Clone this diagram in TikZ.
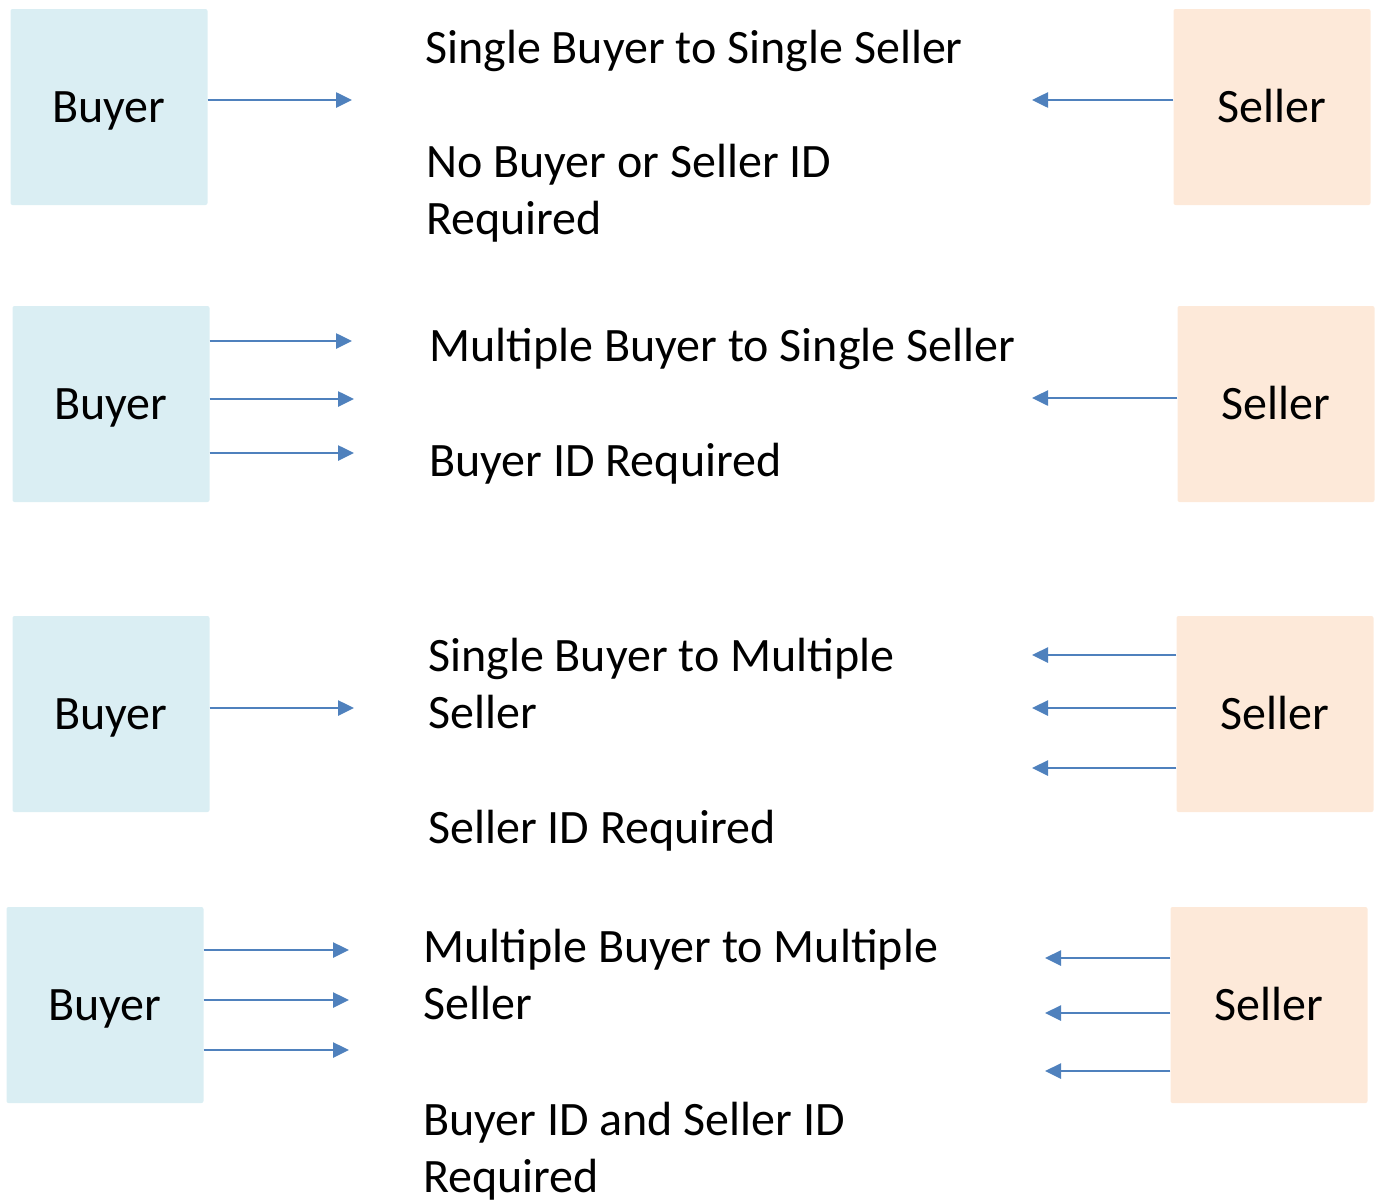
\documentclass[tikz,border=0pt]{standalone}
\usepackage{fontspec}
\setmainfont{Carlito}
\usetikzlibrary{arrows.meta}
\definecolor{buyerblue}{HTML}{DAEEF3}
\definecolor{sellerpeach}{HTML}{FDE9D9}
\definecolor{flowblue}{HTML}{4F81BD}
\begin{document}
\begin{tikzpicture}
  [x=1pt,y=-1pt,every node/.style={font=\fontsize{48}{57}\selectfont}]
  \tikzstyle{buyer} = [fill=buyerblue,rounded corners=2pt,minimum width=197pt,minimum height=196pt,inner sep=0pt,text height=31pt,text depth=0pt]
  \tikzstyle{seller} = [fill=sellerpeach,rounded corners=2pt,minimum width=197pt,minimum height=196pt,inner sep=0pt,text height=31pt,text depth=0pt]
  \tikzstyle{note} = [anchor=base west,align=left,inner sep=0pt]
  \tikzstyle{flow} = [flowblue,line width=2.6pt,-{Triangle[length=16pt,width=15pt]}]
  \useasboundingbox (0,0) rectangle (1380,1200);
  % boxes
  \node[buyer] (b1) at (109,107)    {Buyer};
  \node[seller] (s1) at (1272,107)  {Seller};
  \node[buyer] (b2) at (111,404)    {Buyer};
  \node[seller] (s2) at (1276,404)  {Seller};
  \node[buyer] (b3) at (111,714)    {Buyer};
  \node[seller] (s3) at (1275,714)  {Seller};
  \node[buyer] (b4) at (105,1005)   {Buyer};
  \node[seller] (s4) at (1269,1005) {Seller};
  % texts (base of a two-line note is its last line)
  \node[note] (t1) at (425,63)   {Single Buyer to Single Seller};
  \node[note] (r1) at (426,234)  {No Buyer or Seller ID\\Required};
  \node[note] (t2) at (429,361)  {Multiple Buyer to Single Seller};
  \node[note] (r2) at (429,476)  {Buyer ID Required};
  \node[note] (t3) at (428,728)  {Single Buyer to Multiple\\Seller};
  \node[note] (r3) at (428,843)  {Seller ID Required};
  \node[note] (t4) at (423,1019) {Multiple Buyer to Multiple\\Seller};
  \node[note] (r4) at (423,1192) {Buyer ID and Seller ID\\Required};
  % arrow tips
  \coordinate (a1) at (352,100);
  \coordinate (a2) at (352,341);
  \coordinate (a3) at (354,399);
  \coordinate (a4) at (354,453);
  \coordinate (a5) at (354,708);
  \coordinate (a6) at (349,950);
  \coordinate (a7) at (349,1000);
  \coordinate (a8) at (349,1050);
  \coordinate (c1) at (1032,100);
  \coordinate (c2) at (1032,398);
  \coordinate (c3) at (1032,655);
  \coordinate (c4) at (1032,708);
  \coordinate (c5) at (1032,768);
  \coordinate (c6) at (1045,958);
  \coordinate (c7) at (1045,1013);
  \coordinate (c8) at (1045,1071);
  \foreach \source /\dest in {b1/a1,b2/a2,b2/a3,b2/a4,b3/a5,b4/a6,b4/a7,b4/a8}
   \draw[flow] (\source.east |- \dest) -- (\dest);
  \foreach \source /\dest in {s1/c1,s2/c2,s3/c3,s3/c4,s3/c5,s4/c6,s4/c7,s4/c8}
   \draw[flow] (\source.west |- \dest) -- (\dest);
\end{tikzpicture}
\end{document}
